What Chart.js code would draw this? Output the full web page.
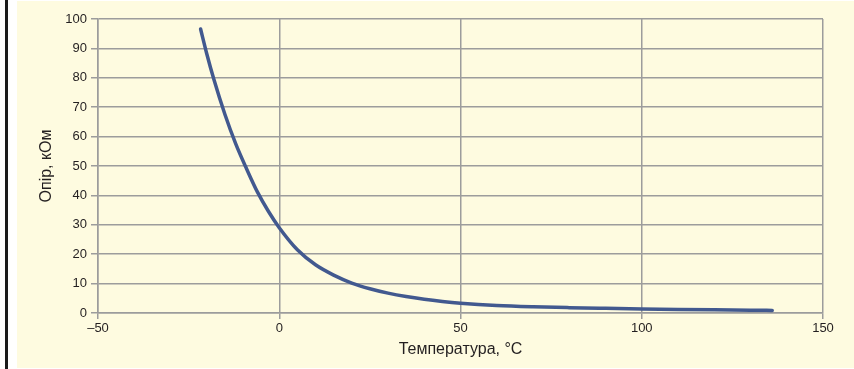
<!DOCTYPE html>
<html>
<head>
<meta charset="utf-8">
<script src="https://cdn.jsdelivr.net/npm/chart.js@4/dist/chart.umd.min.js"></script>
<style>
  html, body { margin: 0; padding: 0; background: #ffffff; width: 854px; height: 369px; overflow: hidden; }
  #bar { position: absolute; left: 5px; top: 0; width: 3px; height: 369px; background: #1a1a1a; }
  #panel { position: absolute; left: 17px; top: 1px; width: 837px; height: 367px; background: #fefbe0; }
  #c { position: absolute; left: 0; top: 0; }
</style>
</head>
<body>
<div id="bar"></div>
<div id="panel"></div>
<canvas id="c" width="854" height="369"></canvas>
<script>
// Temperature, °C
const temperatures = [-21.7, -20, -18, -15, -12, -9, -6, -3, 0, 5, 10, 15, 20, 25, 30, 35, 40, 45, 50, 60, 70, 80, 90, 100, 110, 120, 130, 136];
// Resistance, kOhm
const resistance = [96.6, 88.2, 79.3, 67.6, 57.5, 49.0, 41.1, 34.6, 29.0, 21.5, 16.4, 12.9, 10.2, 8.24, 6.75, 5.58, 4.66, 3.93, 3.35, 2.56, 2.11, 1.82, 1.60, 1.40, 1.23, 1.08, 0.95, 0.88];
const xTicks = [-50, 0, 50, 100, 150];
const yTicks = [0, 10, 20, 30, 40, 50, 60, 70, 80, 90, 100];
const xTitle = 'Температура, °C';
const yTitle = 'Опір, кОм';

const points = temperatures.map((t, i) => ({ x: t, y: resistance[i] }));
const gridColor = '#9c9c9c';
const textColor = '#231f20';
const tickFont = { family: 'Liberation Sans, Arial, sans-serif', size: 13 };
const titleFont = { family: 'Liberation Sans Narrow, Arial Narrow, sans-serif', size: 16 };

new Chart(document.getElementById('c'), {
  type: 'line',
  data: {
    datasets: [{
      data: points,
      borderColor: '#42598f',
      borderWidth: 3.5,
      borderCapStyle: 'round',
      pointRadius: 0,
      cubicInterpolationMode: 'monotone',
      fill: false
    }]
  },
  options: {
    responsive: false,
    animation: false,
    devicePixelRatio: 1,
    layout: { padding: { top: 19, right: 31, left: 33, bottom: 10 } },
    plugins: { legend: { display: false }, tooltip: { enabled: false } },
    scales: {
      x: {
        type: 'linear',
        min: xTicks[0], max: xTicks[xTicks.length - 1],
        afterBuildTicks: s => { s.ticks = xTicks.map(v => ({ value: v })); },
        afterFit: s => { s.height = 46; },
        grid: { color: gridColor, lineWidth: 1.5, tickLength: 6, drawTicks: true },
        border: { color: gridColor, width: 1.5 },
        ticks: {
          color: textColor, font: tickFont, padding: 2, maxRotation: 0,
          callback: v => (v < 0 ? '\u2013' + Math.abs(v) : String(v))
        },
        title: { display: true, text: xTitle, color: textColor, font: titleFont, padding: { top: 0, bottom: 0 } }
      },
      y: {
        type: 'linear',
        min: yTicks[0], max: yTicks[yTicks.length - 1],
        afterBuildTicks: s => { s.ticks = yTicks.map(v => ({ value: v })); },
        afterFit: s => { s.width = 65; },
        grid: { color: gridColor, lineWidth: 1.5, tickLength: 7, drawTicks: true },
        border: { color: gridColor, width: 1.5 },
        ticks: { color: textColor, font: tickFont, padding: 4 },
        title: { display: true, text: yTitle, color: textColor, font: titleFont, padding: { top: 4, bottom: 0 } }
      }
    }
  }
});
</script>
</body>
</html>
